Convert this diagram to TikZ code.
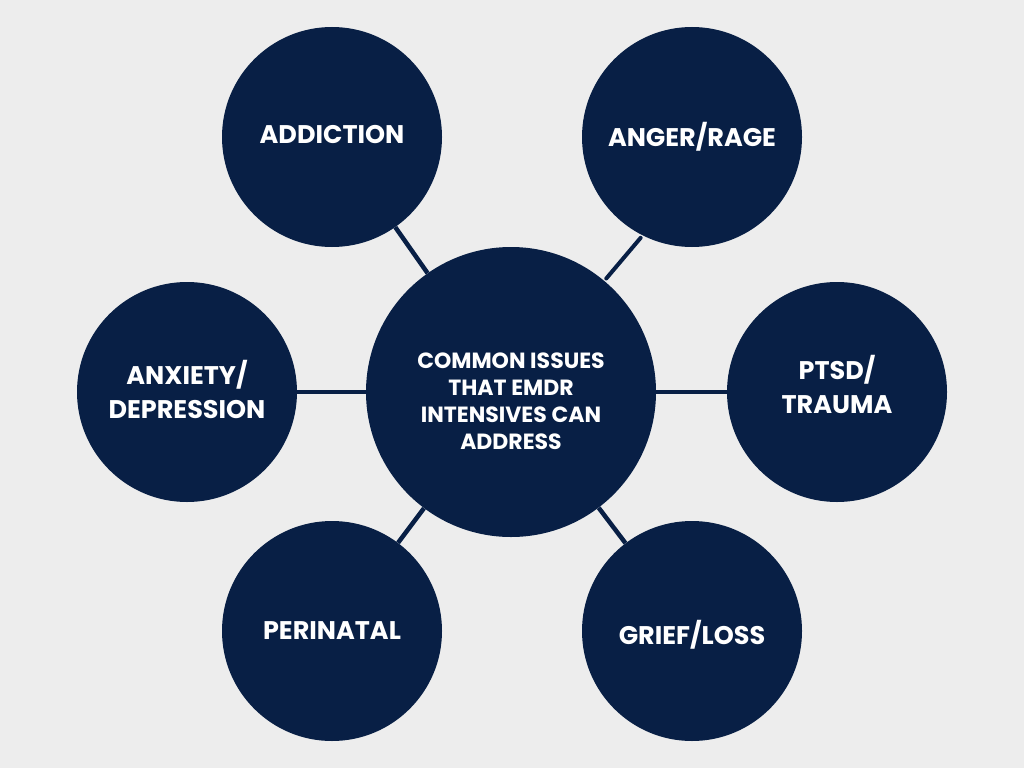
\documentclass[tikz,border=0pt]{standalone}
\usepackage{fontspec}
\setmainfont{Poppins}
\definecolor{navy}{RGB}{8,31,69}
\definecolor{bg}{RGB}{237,237,237}
\begin{document}
\begin{tikzpicture}[x=1pt,y=-1pt,
  bubble/.style={circle,fill=navy,draw=none,minimum size=220pt,inner sep=0pt},
  hub/.style={circle,fill=navy,draw=none,minimum size=290pt,inner sep=0pt},
  btext/.style={text=white,inner sep=0pt,font=\bfseries\fontsize{25.5}{34}\selectfont,align=center},
  htext/.style={text=white,inner sep=0pt,font=\bfseries\fontsize{22}{27}\selectfont,align=center},
  link/.style={draw=navy,line width=4.5pt},
  thin link/.style={draw=navy,line width=4pt,line cap=round}]
\fill[bg] (0,0) rectangle (1024,768);
\useasboundingbox (0,0) rectangle (1024,768);
\node[hub,label={[htext,yshift=-9pt]center:COMMON ISSUES\\THAT EMDR\\INTENSIVES CAN\\ADDRESS}] (c) at (511,392) {};
\node[bubble,label={[btext,yshift=2pt]center:ADDICTION}] (add) at (332,137) {};
\node[bubble,label={[btext]center:ANGER/RAGE}] (ang) at (692,137) {};
\node[bubble,label={[btext,yshift=2.5pt]center:ANXIETY/\\DEPRESSION}] (anx) at (187,392) {};
\node[bubble,label={[btext,yshift=7.5pt]center:PTSD/\\TRAUMA}] (pts) at (837,392) {};
\node[bubble,label={[btext]center:PERINATAL}] (per) at (332,631) {};
\node[bubble,label={[btext,yshift=-4pt]center:GRIEF/LOSS}] (gri) at (692,631) {};
\draw[link] (c) -- (add);
\draw[thin link] ([shift={(50:3pt)}]c.50) -- ([shift={(243:3pt)}]ang.243);
\draw[link] (c) -- (anx);
\draw[link] (c) -- (pts);
\draw[link] (c) -- (per);
\draw[link] (c) -- (gri);
\end{tikzpicture}
\end{document}
